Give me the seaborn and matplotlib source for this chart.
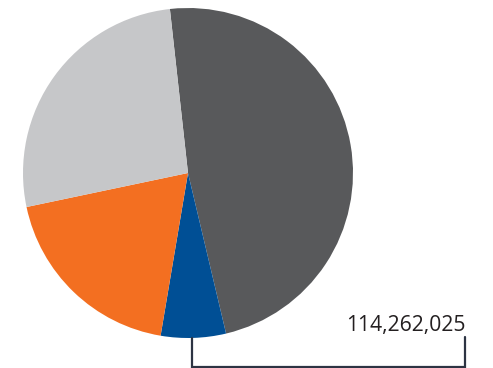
import matplotlib
matplotlib.use("Agg")
import matplotlib.pyplot as plt
import seaborn as sns

sns.set_theme(style="white")
plt.rcParams['font.family'] = ['Open Sans', 'DejaVu Sans']

# Segment values (clockwise from the top)
categories = ["Segment A", "Segment B", "Segment C", "Segment D"]
values = [863_000_000, 114_262_025, 342_000_000, 477_000_000]
colors = ["#58595b", "#004f95", "#f36f21", "#c6c7c9"]
label_text = "114,262,025"

W, H = 493, 368
fig = plt.figure(figsize=(W / 100, H / 100), dpi=100)

# Pie axes: centre (188, 173) px, radius 165 px
cx, cy, r = 188, 173, 165
ax = fig.add_axes([(cx - r) / W, (H - cy - r) / H, 2 * r / W, 2 * r / H])
ax.pie(values, colors=colors, startangle=96.3, counterclock=False,
       radius=1, wedgeprops=dict(linewidth=0))
ax.set_xlim(-1, 1)
ax.set_ylim(-1, 1)
ax.set_aspect("equal")
ax.axis("off")

# Overlay in pixel coordinates for the callout bracket
ov = fig.add_axes([0, 0, 1, 1])
ov.set_xlim(0, W)
ov.set_ylim(H, 0)
ov.axis("off")
ov.plot([192, 192, 465, 465], [338, 366.5, 366.5, 337],
        color="#2d3443", lw=1.6, solid_joinstyle="miter", clip_on=False)
ov.text(466, 331, label_text, ha="right", va="baseline",
        fontsize=15.2, fontweight="medium", color="#231f20")

fig.savefig("out.png", dpi=100)
